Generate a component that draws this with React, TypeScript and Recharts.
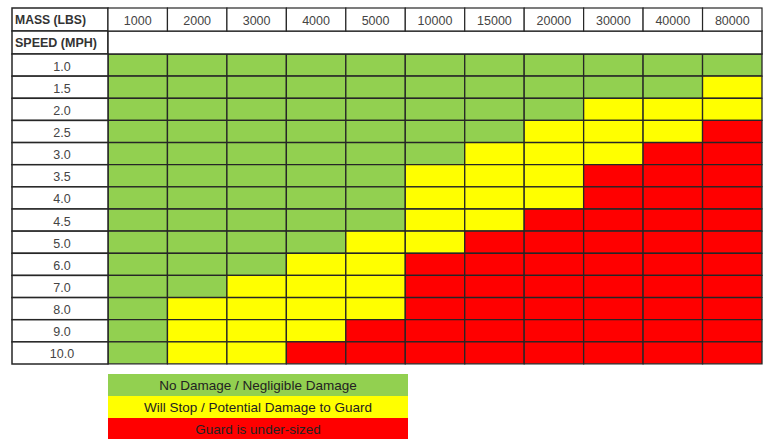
import React from 'react';
import { BarChart, Bar, XAxis, YAxis, Cell } from 'recharts';

const masses = ['1000', '2000', '3000', '4000', '5000', '10000', '15000', '20000', '30000', '40000', '80000'];
const speeds = ['1.0', '1.5', '2.0', '2.5', '3.0', '3.5', '4.0', '4.5', '5.0', '6.0', '7.0', '8.0', '9.0', '10.0'];
// G = no damage, Y = will stop / potential damage, R = under-sized
const levels = [
  'GGGGGGGGGGG',
  'GGGGGGGGGGY',
  'GGGGGGGGYYY',
  'GGGGGGGYYYR',
  'GGGGGGYYYRR',
  'GGGGGYYYRRR',
  'GGGGGYYYRRR',
  'GGGGGYYRRRR',
  'GGGGYYRRRRR',
  'GGGYYRRRRRR',
  'GGYYYRRRRRR',
  'GYYYYRRRRRR',
  'GYYYRRRRRRR',
  'GYYRRRRRRRR',
];
const legendItems = [
  { key: 'G', label: 'No Damage / Negligible Damage' },
  { key: 'Y', label: 'Will Stop / Potential Damage to Guard' },
  { key: 'R', label: 'Guard is under-sized' },
];

const COLORS: Record<string, string> = { G: '#92D050', Y: '#FFFF00', R: '#FF0000' };
const W = 767;
const H = 439;
const LEFT = 12;
const TOP = 8;
const LABEL_W = 96;
const HEAD_H = 23;
const PLOT_RIGHT = 762;
const PLOT_BOTTOM = 364;
const PLOT_W = PLOT_RIGHT - (LEFT + LABEL_W);
const PLOT_H = PLOT_BOTTOM - (TOP + 2 * HEAD_H);
const COL_W = PLOT_W / masses.length;
const ROW_H = PLOT_H / speeds.length;
const FONT = '"Liberation Sans", Arial, sans-serif';
const LINE = '#262626';

const data = speeds.map((s) => {
  const row: Record<string, string | number> = { speed: s };
  masses.forEach((_, c) => {
    row['c' + c] = 1;
  });
  return row;
});

const HeaderTick = (props: any) => {
  const { x, payload } = props;
  const idx = Math.floor(payload.value);
  const left = x - COL_W / 2;
  return (
    <g>
      {idx === 0 && (
        <g>
          <rect x={LEFT} y={TOP} width={LABEL_W} height={HEAD_H} fill="#fff" stroke={LINE} strokeWidth={1.5} />
          <text x={LEFT + 3} y={TOP + 16} fontSize={12} fontWeight="bold" fill="#333" fontFamily={FONT} textLength={71} lengthAdjust="spacingAndGlyphs">MASS (LBS)</text>
          <rect x={LEFT} y={TOP + HEAD_H} width={LABEL_W} height={HEAD_H} fill="#fff" stroke={LINE} strokeWidth={1.5} />
          <text x={LEFT + 3} y={TOP + HEAD_H + 16} fontSize={12} fontWeight="bold" fill="#333" fontFamily={FONT} textLength={82} lengthAdjust="spacingAndGlyphs">SPEED (MPH)</text>
          <rect x={LEFT + LABEL_W} y={TOP + HEAD_H} width={PLOT_W} height={HEAD_H} fill="#fff" stroke={LINE} strokeWidth={1.5} />
        </g>
      )}
      <rect x={left} y={TOP} width={COL_W} height={HEAD_H} fill="#fff" stroke={LINE} strokeWidth={1.2} />
      <text x={x} y={TOP + 16.5} textAnchor="middle" fontSize={12.5} fill="#444" fontFamily={FONT}>{masses[idx]}</text>
    </g>
  );
};

const SpeedTick = (props: any) => {
  const { y, payload } = props;
  return (
    <g>
      <rect x={LEFT} y={y - ROW_H / 2} width={LABEL_W} height={ROW_H} fill="#fff" stroke={LINE} strokeWidth={1.5} />
      <text x={LEFT + LABEL_W / 2 + 2} y={y + 5.5} textAnchor="middle" fontSize={12.5} fill="#444" fontFamily={FONT}>{payload.value}</text>
    </g>
  );
};

export default function App() {
  return (
    <div style={{ position: 'absolute', left: 0, top: 0, width: W, height: H, background: '#fff', overflow: 'hidden' }}>
      <BarChart
        width={W}
        height={H}
        data={data}
        layout="vertical"
        barCategoryGap={0}
        margin={{ top: TOP, left: LEFT, right: W - PLOT_RIGHT, bottom: H - PLOT_BOTTOM }}
      >
        <XAxis
          type="number"
          orientation="top"
          domain={[0, masses.length]}
          ticks={masses.map((_, i) => i + 0.5)}
          height={2 * HEAD_H}
          tick={<HeaderTick />}
          tickLine={false}
          axisLine={false}
          interval={0}
        />
        <YAxis
          type="category"
          dataKey="speed"
          width={LABEL_W}
          tick={<SpeedTick />}
          tickLine={false}
          axisLine={false}
          interval={0}
        />
        {masses.map((m, c) => (
          <Bar key={m} dataKey={'c' + c} stackId="a" isAnimationActive={false} stroke={LINE} strokeWidth={1.3}>
            {speeds.map((s, r) => (
              <Cell key={s} fill={COLORS[levels[r][c]]} />
            ))}
          </Bar>
        ))}
      </BarChart>
      <div style={{ position: 'absolute', left: 108, top: 374, width: 300, fontFamily: FONT, fontSize: 13.5, color: '#222' }}>
        {legendItems.map((it) => (
          <div key={it.key} style={{ background: COLORS[it.key], height: 22, lineHeight: '24px', textAlign: 'center' }}>
            {it.label}
          </div>
        ))}
      </div>
    </div>
  );
}
